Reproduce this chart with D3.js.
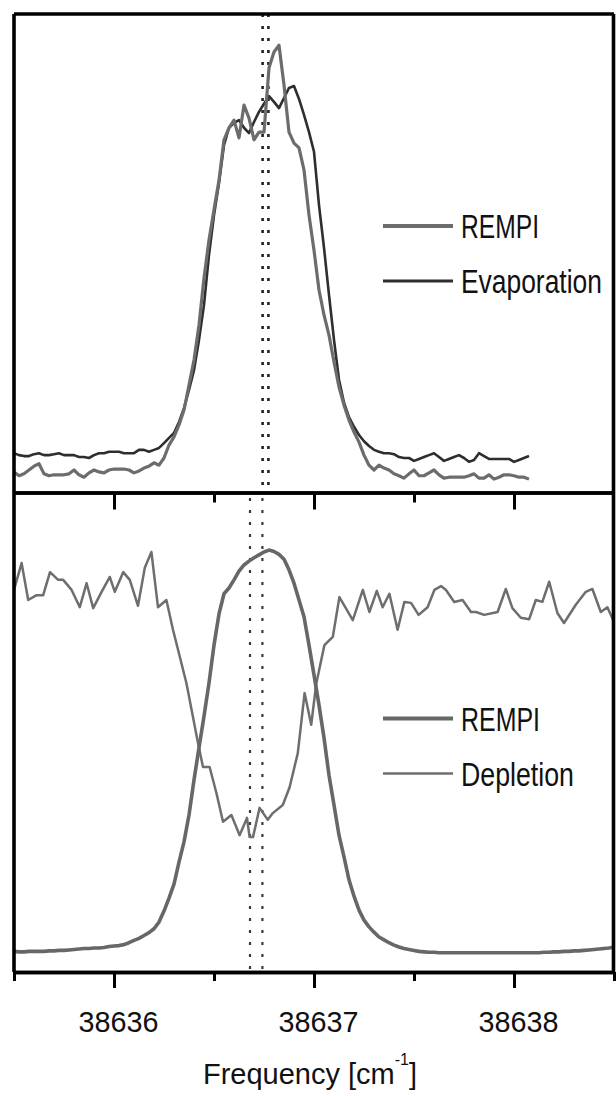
<!DOCTYPE html>
<html><head><meta charset="utf-8">
<script src="https://cdn.jsdelivr.net/npm/d3@7"></script>
<style>html,body{margin:0;padding:0;background:#fff}svg{display:block}</style>
</head><body>
<svg id="chart" width="616" height="1096"></svg>
<script>
// Frequency scan points [cm^-1]
const freqScan = [
38635.5,38635.525,38635.55,38635.575,38635.6,38635.625,38635.65,38635.675,38635.7,38635.725,
38635.75,38635.775,38635.8,38635.825,38635.85,38635.875,38635.9,38635.925,38635.95,38635.975,
38636,38636.025,38636.05,38636.075,38636.1,38636.125,38636.15,38636.175,38636.2,38636.225,
38636.25,38636.275,38636.3,38636.325,38636.35,38636.375,38636.4,38636.425,38636.45,38636.475,
38636.5,38636.525,38636.55,38636.575,38636.6,38636.625,38636.65,38636.675,38636.7,38636.725,
38636.75,38636.775,38636.8,38636.825,38636.85,38636.875,38636.9,38636.925,38636.95,38636.975,
38637,38637.025,38637.05,38637.075,38637.1,38637.125,38637.15,38637.175,38637.2,38637.225,
38637.25,38637.275,38637.3,38637.325,38637.35,38637.375,38637.4,38637.425,38637.45,38637.475,
38637.5,38637.525,38637.55,38637.575,38637.6,38637.625,38637.65,38637.675,38637.7,38637.725,
38637.75,38637.775,38637.8,38637.825,38637.85,38637.875,38637.9,38637.925,38637.95,38637.975,
38638,38638.025,38638.05,38638.075,38638.1,38638.125,38638.15,38638.175,38638.2,38638.225,
38638.25,38638.275,38638.3,38638.325,38638.35,38638.375,38638.4,38638.425,38638.45,38638.475,
38638.5];

// Upper panel (arb. units)
const rempiTop = [
4.6,3.8,4.2,5.0,5.8,6.3,4.2,3.8,4.0,4.0,
4.0,4.2,5.0,4.0,3.5,4.4,5.0,4.6,4.4,5.0,
5.2,5.2,5.2,5.0,4.4,4.8,5.4,5.8,6.5,6.0,
7.5,10.2,11.9,14.4,17.5,22.7,27.9,35.2,45.0,52.9,
59.2,65.4,73.8,76.3,77.9,74.2,81.0,78.3,73.8,75.4,
75.4,88.8,92.1,93.5,85.2,75.4,73.1,72.1,67.5,58.1,
50.8,42.5,37.3,33.1,27.5,22.3,18.5,15.4,12.9,10.8,
8.1,6.0,5.0,6.0,5.4,5.0,4.2,3.8,3.3,4.2,
5.0,3.8,3.8,4.4,5.0,4.0,3.3,3.5,3.5,3.5,
3.5,3.8,4.2,3.3,3.3,4.0,3.1,3.5,4.0,4.0,
3.8,3.5,3.5,3.1];
const evaporation = [
8.5,8.1,7.9,7.9,8.3,8.5,8.1,8.1,8.3,8.5,
8.1,8.1,8.1,7.7,7.7,7.5,8.1,8.5,8.5,8.8,
8.8,8.8,8.5,8.5,8.5,9.2,9.2,8.8,9.2,9.6,
10.6,11.7,12.7,15.0,17.9,21.7,25.8,32.1,39.4,49.8,
58.1,64.8,72.7,76.3,77.3,77.9,76.3,75.2,77.5,79.6,
81.3,82.9,81.7,80.4,82.5,84.6,85.0,82.3,79.0,75.4,
71.3,60.2,51.3,41.5,32.1,23.8,19.0,16.0,14.0,12.3,
11.0,10.0,9.2,8.8,8.5,8.5,8.3,7.7,7.5,7.5,
6.9,7.3,7.7,8.1,8.5,7.7,6.9,7.3,7.7,8.1,
7.5,6.7,7.1,8.5,7.9,7.3,7.3,7.3,7.3,7.3,
6.7,7.1,7.5,7.9];

// Lower panel (arb. units)
const rempiBottom = [
4.3,4.2,4.2,4.3,4.3,4.3,4.3,4.4,4.4,4.5,
4.5,4.6,4.7,4.8,4.9,4.9,5.0,5.0,5.1,5.3,
5.4,5.5,5.7,6.1,6.6,7.0,7.6,8.2,9.0,10.4,
12.7,15.4,18.3,22.9,27.1,32.7,40.0,46.7,53.3,60.2,
68.1,74.6,78.8,80.0,81.7,83.5,84.8,85.6,86.3,86.9,
87.5,87.9,87.6,87.0,86.0,83.8,81.0,77.5,74.0,68.1,
61.9,55.6,48.8,41.0,34.8,28.5,24.0,19.2,15.8,12.9,
10.8,9.4,8.3,7.3,6.7,6.1,5.6,5.2,4.9,4.7,
4.5,4.3,4.2,4.1,4.1,4.0,4.0,4.0,4.0,4.0,
4.0,4.0,4.0,4.0,4.0,4.0,4.0,4.0,4.0,4.0,
4.0,4.0,4.0,4.0,4.0,4.0,4.1,4.1,4.2,4.2,
4.3,4.3,4.4,4.4,4.5,4.6,4.7,4.8,4.9,5.0,
5.2];
const depletionFreq = [
38635.500,38635.538,38635.571,38635.613,38635.646,38635.680,38635.721,38635.746,38635.788,38635.829,
38635.863,38635.896,38635.938,38635.979,38636.004,38636.046,38636.079,38636.120,38636.154,38636.187,
38636.220,38636.262,38636.295,38636.362,38636.420,38636.445,38636.478,38636.512,38636.545,38636.587,
38636.628,38636.665,38636.678,38636.695,38636.728,38636.769,38636.794,38636.844,38636.878,38636.919,
38636.953,38636.986,38637.011,38637.052,38637.094,38637.127,38637.194,38637.244,38637.277,38637.314,
38637.343,38637.377,38637.418,38637.452,38637.485,38637.523,38637.568,38637.602,38637.635,38637.660,
38637.701,38637.743,38637.785,38637.810,38637.851,38637.918,38637.959,38637.992,38638.034,38638.076,
38638.109,38638.142,38638.176,38638.217,38638.250,38638.309,38638.359,38638.392,38638.434,38638.467,
38638.500];
const depletion = [
79.6,85.2,77.5,78.5,78.5,83.3,81.7,81.7,79.6,76.0,
81.0,75.8,79.2,82.3,79.2,83.3,81.7,76.3,84.2,87.5,
76.0,77.5,71.3,60.2,47.7,42.7,42.7,37.3,31.3,32.7,
28.5,32.1,28.1,28.1,34.2,31.7,33.1,34.8,38.5,45.6,
58.1,51.5,60.0,68.1,69.8,78.1,73.3,79.6,75.0,79.4,
76.0,78.8,71.3,77.1,76.9,74.4,76.0,79.6,80.4,79.6,
77.1,77.5,75.0,75.0,74.4,75.0,79.8,75.8,73.8,73.5,
77.5,77.1,81.3,74.8,72.7,76.5,79.2,79.8,75.0,76.0,
72.9];

const markersTop = [38636.743, 38636.772];
const markersBottom = [38636.680, 38636.742];
const majorTicks = [38636, 38637, 38638];
const minorTicks = [38635.5, 38636.5, 38637.5, 38638.5];
const innerMinorTicks = [38636.5, 38637.5];
const tickLabels = ["38636", "38637", "38638"];
const legendTop = ["REMPI", "Evaporation"];
const legendBottom = ["REMPI", "Depletion"];
const titleParts = ["Frequency [cm", "-1", "]"];

const svg = d3.select("#chart");
const FONT = "'Liberation Sans', Arial, sans-serif";
const x = d3.scaleLinear().domain([38635.5, 38638.5]).range([14, 614]);
const yTop = d3.scaleLinear().domain([0, 100]).range([494, 14]);
const yBot = d3.scaleLinear().domain([0, 100]).range([972, 492]);

const defs = svg.append("defs");
defs.append("clipPath").attr("id","cTop").append("rect").attr("x",14).attr("y",14).attr("width",600).attr("height",479);
defs.append("clipPath").attr("id","cBot").append("rect").attr("x",14).attr("y",493).attr("width",600).attr("height",479);

const lineTop = d3.line().x(d => x(d[0])).y(d => yTop(d[1]));
const lineBot = d3.line().x(d => x(d[0])).y(d => yBot(d[1]));

const gTop = svg.append("g").attr("clip-path","url(#cTop)");
const gBot = svg.append("g").attr("clip-path","url(#cBot)");

// dotted markers
gTop.selectAll("line.mk").data(markersTop).join("line")
  .attr("x1", d => x(d)).attr("x2", d => x(d)).attr("y1", 14).attr("y2", 494)
  .attr("stroke", "#222").attr("stroke-width", 2.6).attr("stroke-dasharray", "3 9");
gBot.selectAll("line.mk").data(markersBottom).join("line")
  .attr("x1", d => x(d)).attr("x2", d => x(d)).attr("y1", 498).attr("y2", 972)
  .attr("stroke", "#3a3a3a").attr("stroke-width", 2.2).attr("stroke-dasharray", "3 9");

// curves
gTop.append("path").datum(evaporation.map((v,i)=>[freqScan[i], v]))
  .attr("d", lineTop).attr("fill","none").attr("stroke","#2e2e2e").attr("stroke-width",2.6).attr("stroke-linejoin","round");
gTop.append("path").datum(rempiTop.map((v,i)=>[freqScan[i], v]))
  .attr("d", lineTop).attr("fill","none").attr("stroke","#6c6c6c").attr("stroke-width",3.2).attr("stroke-linejoin","round");

gBot.append("path").datum(depletion.map((v,i)=>[depletionFreq[i], v]))
  .attr("d", lineBot).attr("fill","none").attr("stroke","#6e6e6e").attr("stroke-width",2.5).attr("stroke-linejoin","round");
gBot.append("path").datum(rempiBottom.map((v,i)=>[freqScan[i], v]))
  .attr("d", lineBot).attr("fill","none").attr("stroke","#676767").attr("stroke-width",3.6).attr("stroke-linejoin","round");

// frame
const frame = svg.append("g").attr("stroke","#000").attr("stroke-width",3.6).attr("fill","none");
frame.append("line").attr("x1", x.range()[0]).attr("x2", x.range()[1]).attr("y1", 14).attr("y2", 14);
frame.append("line").attr("x1", x.range()[0]).attr("x2", x.range()[0]).attr("y1", 14).attr("y2", 972);
frame.append("line").attr("x1", x.range()[1]-0.5).attr("x2", x.range()[1]-0.5).attr("y1", 14).attr("y2", 972);

function styleAxis(g){
  g.select(".domain").attr("stroke","#000").attr("stroke-width",3.6);
  g.selectAll(".tick line").attr("stroke","#000").attr("stroke-width",3);
}
// divider axis (ticks pointing down into lower panel)
svg.append("g").attr("transform","translate(0,492.5)")
  .call(d3.axisBottom(x).tickValues(majorTicks).tickSize(17).tickSizeOuter(0).tickFormat(""))
  .call(styleAxis);
svg.append("g").attr("transform","translate(0,492.5)")
  .call(d3.axisBottom(x).tickValues(innerMinorTicks).tickSize(10).tickSizeOuter(0).tickFormat(""))
  .call(styleAxis);

// bottom axis
svg.append("g").attr("transform","translate(0,972)")
  .call(d3.axisBottom(x).tickValues(minorTicks).tickSize(9).tickSizeOuter(0).tickFormat(""))
  .call(styleAxis);
const bAx = svg.append("g").attr("transform","translate(0,972)")
  .call(d3.axisBottom(x).tickValues(majorTicks).tickSize(16).tickSizeOuter(0).tickFormat((d,i)=>tickLabels[i]))
  .call(styleAxis);
bAx.selectAll(".tick text")
  .attr("y", 60).attr("dy", 0).attr("dx", 4)
  .attr("fill","#111")
  .style("font-family", FONT).style("font-size","30px")
  .attr("textLength", 80).attr("lengthAdjust","spacingAndGlyphs");

// axis title
const t = svg.append("text").attr("x", 310).attr("y", 1084).attr("text-anchor","middle")
  .attr("fill","#111").style("font-family", FONT).style("font-size","29px");
t.append("tspan").text(titleParts[0]);
t.append("tspan").text(titleParts[1]).attr("dy", -19).style("font-size","16px");
t.append("tspan").text(titleParts[2]).attr("dy", 19);

// legends (condensed lettering via horizontal scale)
function legend(items, colors, widths, y0, lens){
  const g = svg.append("g");
  items.forEach((name, i) => {
    const yy = y0 + i * 55;
    g.append("line").attr("x1", 383).attr("x2", 453).attr("y1", yy).attr("y2", yy)
      .attr("stroke", colors[i]).attr("stroke-width", widths[i]);
    const txt = g.append("text").attr("x", 0).attr("y", 0).text(name)
      .attr("fill","#111").style("font-family", FONT).style("font-size","33px");
    const natural = txt.node().getComputedTextLength();
    const sx = lens[i] / natural;
    txt.attr("transform", `translate(461,${yy + 12}) scale(${sx},1)`);
  });
}
legend(legendTop, ["#6c6c6c","#2e2e2e"], [4, 3], 226, [78, 141]);
legend(legendBottom, ["#676767","#6e6e6e"], [4, 2.5], 718.5, [79, 113]);
</script>
</body></html>
